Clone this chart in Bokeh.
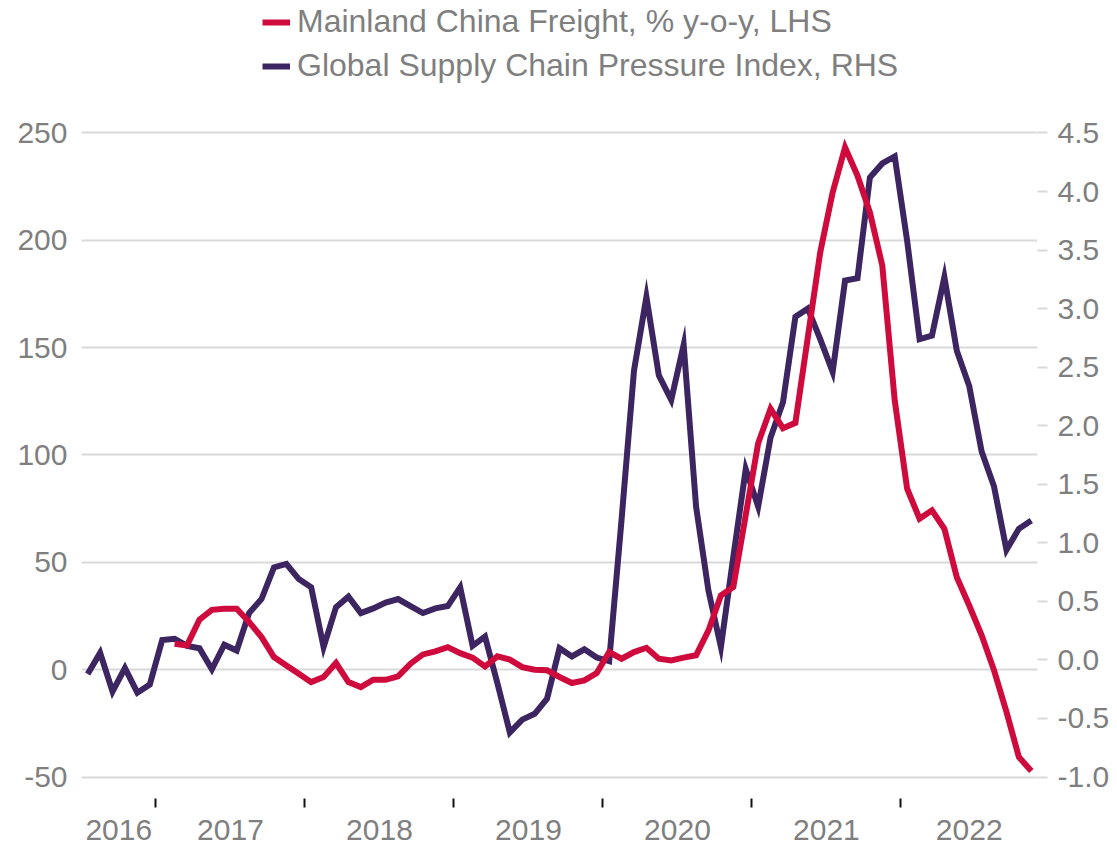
from bokeh.plotting import figure
from bokeh.models import (Range1d, LinearAxis, FixedTicker, PrintfTickFormatter,
                          Legend, LegendItem, ColumnDataSource)
from bokeh.embed import file_html
from bokeh.resources import INLINE

# ---- data (monthly, Jul 2016 .. Nov 2022) ----
months = [f"{y}-{m:02d}" for y in range(2016, 2023) for m in range(1, 13)]
months = months[months.index("2016-07"):months.index("2022-11") + 1]

gscpi = [-0.12, 0.06, -0.27, -0.07, -0.28, -0.21,              # Jul-Dec 2016
         0.17, 0.18, 0.12, 0.10, -0.08, 0.13, 0.08, 0.40, 0.52, 0.79, 0.82, 0.69,   # 2017
         0.62, 0.11, 0.45, 0.54, 0.40, 0.44, 0.49, 0.52, 0.46, 0.40, 0.44, 0.46,    # 2018
         0.62, 0.12, 0.20, -0.20, -0.62, -0.51, -0.46, -0.33, 0.10, 0.03, 0.09, 0.02,  # 2019
         -0.01, 1.20, 2.47, 3.10, 2.43, 2.22, 2.69, 1.31, 0.59, 0.11, 0.88, 1.63,   # 2020
         1.31, 1.90, 2.20, 2.93, 3.00, 2.74, 2.46, 3.24, 3.26, 4.12, 4.24, 4.30,    # 2021
         3.58, 2.74, 2.77, 3.27, 2.64, 2.34, 1.78, 1.48, 0.94, 1.12, 1.19]          # 2022

freight_start = "2017-02"
freight = [12.1, 11.3, 23.3, 27.9, 28.4, 28.4, 22.2, 15.2, 5.9, 2.0, -1.9,          # Feb-Dec 2017
           -5.8, -3.4, 3.1, -5.8, -8.1, -4.7, -4.7, -3.1, 2.8, 7.1, 8.5, 10.5,      # 2018
           7.7, 5.6, 1.5, 6.2, 4.7, 1.2, 0.0, -0.3, -3.4, -6.2, -5.0, -1.6,         # 2019
           8.2, 5.1, 8.2, 10.2, 5.1, 4.3, 5.6, 6.7, 18.3, 34.6, 38.5, 72.0,         # 2020
           105.5, 121.5, 112.5, 115.0, 154.8, 194.4, 222.3, 243.3, 230.1, 213.0, 188.2, 125.4,  # 2021
           84.3, 70.3, 74.2, 65.6, 43.1, 29.9, 16.0, -0.3, -19.7, -40.7, -47.2]     # 2022

year_labels = ["2016", "2017", "2018", "2019", "2020", "2021", "2022"]
left_ticks = [-50, 0, 50, 100, 150, 200, 250]
right_ticks = [-1.0, -0.5, 0.0, 0.5, 1.0, 1.5, 2.0, 2.5, 3.0, 3.5, 4.0, 4.5]

RED = "#cf0a3c"
PURPLE = "#3c2560"
GREY = "#7f7f7f"
GRID = "#d9d9d9"
FONT = "Liberation Sans"

# ---- positions from the month list ----
n = len(months)
gx = list(range(n))
f0 = months.index(freight_start)
fx = list(range(f0, f0 + len(freight)))
bounds = [i - 0.5 for i, mth in enumerate(months) if mth.endswith("-01")]
edges = [-0.5] + bounds + [n - 0.5]
centers = [(edges[k] + edges[k + 1]) / 2 for k in range(len(edges) - 1)]

# ---- figure ----
W, H = 1117, 846
ML, MR, MB = 81, 80, 48
p = figure(width=W, height=H, output_backend="svg", toolbar_location=None,
           x_range=Range1d(-0.5, n - 0.5), y_range=Range1d(-60.0, 311.7),
           min_border_left=ML, min_border_right=MR, min_border_top=0,
           min_border_bottom=MB, outline_line_color=None)
p.extra_y_ranges = {"r": Range1d(-1.1836, 5.6315)}

src_g = ColumnDataSource(dict(x=gx, y=gscpi))
src_f = ColumnDataSource(dict(x=fx, y=freight))
rb = p.line("x", "y", source=src_g, y_range_name="r", line_color=PURPLE,
            line_width=6, line_join="miter")
rr = p.line("x", "y", source=src_f, line_color=RED, line_width=6, line_join="miter")

# x axis
xa = p.xaxis[0]
xa.ticker = FixedTicker(ticks=centers, minor_ticks=bounds)
xa.major_label_overrides = {c: lab for c, lab in zip(centers, year_labels)}
xa.major_tick_out = 0
xa.major_tick_in = 0
xa.minor_tick_out = 9
xa.minor_tick_in = 0
xa.minor_tick_line_color = "#111111"
xa.minor_tick_line_width = 2
xa.axis_line_color = None
xa.major_label_standoff = 12
xa.major_label_text_font = FONT
xa.major_label_text_font_size = "30px"
xa.major_label_text_color = GREY

# left axis
lt = FixedTicker(ticks=left_ticks)
ya = p.yaxis[0]
ya.ticker = lt
ya.formatter = PrintfTickFormatter(format="%d")
ya.major_tick_out = 0
ya.major_tick_in = 0
ya.minor_tick_out = 0
ya.minor_tick_in = 0
ya.axis_line_color = None
ya.major_label_standoff = 14
ya.major_label_text_font = FONT
ya.major_label_text_font_size = "30px"
ya.major_label_text_color = GREY

# right axis
ra = LinearAxis(y_range_name="r", ticker=FixedTicker(ticks=right_ticks),
                formatter=PrintfTickFormatter(format="%.1f"))
ra.axis_line_color = None
ra.major_tick_out = 10
ra.major_tick_in = 0
ra.minor_tick_out = 0
ra.minor_tick_in = 0
ra.major_tick_line_color = GRID
ra.major_tick_line_width = 2
ra.major_label_standoff = 10
ra.major_label_text_font = FONT
ra.major_label_text_font_size = "30px"
ra.major_label_text_color = GREY
p.add_layout(ra, "right")

# grid
p.xgrid.visible = False
p.ygrid.ticker = lt
p.ygrid.grid_line_color = GRID
p.ygrid.grid_line_width = 2

# legend (location = bottom-left corner of the legend box, from frame bottom-left)
frame_h = H - MB
legend = Legend(items=[LegendItem(label="Mainland China Freight, % y-o-y, LHS", renderers=[rr]),
                       LegendItem(label="Global Supply Chain Pressure Index, RHS", renderers=[rb])],
                location=(181, frame_h - 84), orientation="vertical",
                label_text_font=FONT, label_text_font_size="32px", label_text_color=GREY,
                glyph_width=28, glyph_height=20, label_standoff=7, spacing=7,
                padding=0, margin=0, border_line_color=None, background_fill_alpha=0)
p.add_layout(legend)

open("out.html", "w").write(file_html(p, INLINE))
